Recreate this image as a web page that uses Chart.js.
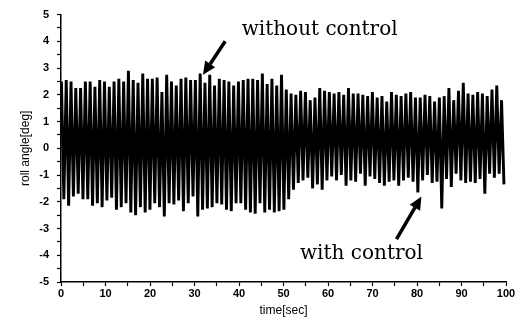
<!DOCTYPE html>
<html>
<head>
<meta charset="utf-8">
<script src="https://cdn.jsdelivr.net/npm/chart.js@4/dist/chart.umd.min.js"></script>
<style>
  html, body { margin: 0; padding: 0; background: #fff; }
  #rollChart { display: block; }
</style>
</head>
<body>
<canvas id="rollChart" width="521" height="331"></canvas>
<script>
// roll response: one peak and one trough per wave cycle
const cycleSec = 1.075;      // wave period [sec]
const peakOffset = 0.1;      // time of first crest
const troughOffset = 0.64;   // time of first trough

const peaks = [
  // 0-10 s
  2.5, 2.55, 2.5, 2.25, 2.25, 2.5, 2.5, 2.3, 2.55, 2.5,
  // 10-20 s
  2.3, 2.5, 2.6, 2.5, 2.9, 2.55, 2.45, 2.8, 2.6,
  // 20-30 s
  2.6, 2.65, 2.1, 2.75, 2.5, 2.35, 2.6, 2.65, 2.55,
  // 30-40 s
  2.55, 2.8, 2.45, 2.75, 2.35, 2.6, 2.55, 2.5, 2.35,
  // 40-50 s
  2.5, 2.55, 2.6, 2.6, 2.55, 2.8, 2.4, 2.6, 2.35, 2.75,
  // 50-60 s (control on)
  2.2, 2.05, 2.0, 2.15, 2.1, 1.8, 1.9, 2.25, 2.15,
  // 60-70 s
  2.1, 2.05, 2.1, 2.0, 2.25, 2.05, 2.05, 2.0, 1.95,
  // 70-80 s
  2.1, 1.9, 1.95, 1.75, 2.1, 2.0, 1.95, 2.05, 2.1, 1.9,
  // 80-90 s
  1.9, 2.0, 1.95, 1.75, 1.9, 1.95, 2.25, 1.8, 2.15,
  // 90-100 s
  2.45, 2.05, 2.0, 2.1, 2.05, 1.95, 2.2, 2.35, 1.8
];

const troughs = [
  -1.9, -2.15, -1.8, -1.7, -1.9, -1.9, -2.15, -2.05, -2.2, -1.95,
  -1.85, -2.3, -2.2, -2.05, -2.4, -2.5, -2.2, -2.4, -2.3,
  -2.05, -2.2, -2.55, -2.05, -2.1, -1.95, -2.35, -2.05, -1.8,
  -2.55, -2.3, -2.25, -2.2, -2.05, -2.1, -2.3, -2.35, -2.05,
  -2.05, -2.3, -2.4, -2.45, -2.05, -2.4, -2.3, -2.4, -2.35, -2.3,
  -1.9, -1.55, -1.3, -1.2, -1.1, -1.5, -1.35, -1.55, -1.2,
  -1.05, -1.2, -1.0, -1.4, -1.2, -1.25, -0.95, -1.4, -1.05,
  -1.15, -1.3, -1.4, -1.25, -1.2, -1.4, -1.2, -1.1, -1.25, -1.65,
  -1.2, -1.0, -1.3, -1.25, -2.25, -1.15, -1.45, -0.95, -1.2,
  -1.3, -1.25, -1.3, -1.15, -1.7, -0.95, -1.1, -0.95, -1.35
];

const xTickLabels = [0, 10, 20, 30, 40, 50, 60, 70, 80, 90, 100];
const yTickLabels = [-5, -4, -3, -2, -1, 0, 1, 2, 3, 4, 5];

// callouts, in axis units [sec, deg]
const notes = [
  { text: 'without control', tx: 40.6, ty: 4.42, from: [36.9, 4.0], to: [31.9, 2.75] },
  { text: 'with control', tx: 53.7, ty: -3.95, from: [75.4, -3.4], to: [81.0, -1.8] }
];

const rollPoints = [];
peaks.forEach((p, i) => {
  rollPoints.push({ x: peakOffset + i * cycleSec, y: p });
  rollPoints.push({ x: troughOffset + i * cycleSec, y: troughs[i] });
});

function drawArrow(ctx, x0, y0, x1, y1) {
  const ang = Math.atan2(y1 - y0, x1 - x0);
  const headLen = 13, headW = 6;
  const bx = x1 - headLen * Math.cos(ang);
  const by = y1 - headLen * Math.sin(ang);
  ctx.beginPath();
  ctx.moveTo(x0, y0);
  ctx.lineTo(bx, by);
  ctx.lineWidth = 3.5;
  ctx.stroke();
  ctx.beginPath();
  ctx.moveTo(x1, y1);
  ctx.lineTo(bx + headW * Math.sin(ang), by - headW * Math.cos(ang));
  ctx.lineTo(bx - headW * Math.sin(ang), by + headW * Math.cos(ang));
  ctx.closePath();
  ctx.fill();
}

const calloutPlugin = {
  id: 'callouts',
  afterDatasetsDraw(chart) {
    const { ctx, scales: { x, y } } = chart;
    ctx.save();
    ctx.fillStyle = '#000';
    ctx.strokeStyle = '#000';
    ctx.font = '20px "DejaVu Serif", serif';
    ctx.textBaseline = 'middle';
    ctx.textAlign = 'left';
    notes.forEach(n => {
      ctx.fillText(n.text, x.getPixelForValue(n.tx), y.getPixelForValue(n.ty));
      drawArrow(ctx,
        x.getPixelForValue(n.from[0]), y.getPixelForValue(n.from[1]),
        x.getPixelForValue(n.to[0]), y.getPixelForValue(n.to[1]));
    });
    ctx.restore();
  }
};

const tickFont = { family: '"Liberation Sans", Arial, sans-serif', size: 11, weight: 'bold' };
const titleFont = { family: '"Liberation Sans", Arial, sans-serif', size: 12 };

new Chart(document.getElementById('rollChart'), {
  type: 'line',
  data: {
    datasets: [{
      data: rollPoints,
      borderColor: '#000',
      borderWidth: 2.9,
      pointRadius: 0,
      tension: 0,
      fill: false
    }]
  },
  options: {
    responsive: false,
    animation: false,
    devicePixelRatio: 1,
    layout: { padding: { left: 0, right: 15, top: 10, bottom: 0 } },
    plugins: { legend: { display: false }, tooltip: { enabled: false } },
    scales: {
      x: {
        type: 'linear',
        min: 0,
        max: 100,
        afterFit: s => { s.height = 49; },
        ticks: {
          stepSize: 5,
          autoSkip: false,
          maxRotation: 0,
          padding: 1,
          color: '#000',
          font: tickFont,
          callback: v => xTickLabels.includes(v) ? String(v) : ''
        },
        grid: { drawOnChartArea: false, tickLength: 4, color: '#000', tickWidth: 1.2 },
        border: { color: '#000', width: 1.5 },
        title: { display: true, text: 'time[sec]', color: '#000', font: titleFont, padding: { top: 0, bottom: 13 } }
      },
      y: {
        min: -5,
        max: 5,
        afterFit: s => { s.width = 61; },
        ticks: {
          stepSize: 0.5,
          autoSkip: false,
          padding: 8,
          color: '#000',
          font: tickFont,
          callback: v => yTickLabels.includes(v) ? String(v) : ''
        },
        grid: { drawOnChartArea: false, tickLength: 4, color: '#000', tickWidth: 1.2 },
        border: { color: '#000', width: 1.5 },
        title: { display: true, text: 'roll angle[deg]', color: '#000', font: titleFont, padding: { top: 18, bottom: 0 } }
      }
    }
  },
  plugins: [calloutPlugin]
});
</script>
</body>
</html>
